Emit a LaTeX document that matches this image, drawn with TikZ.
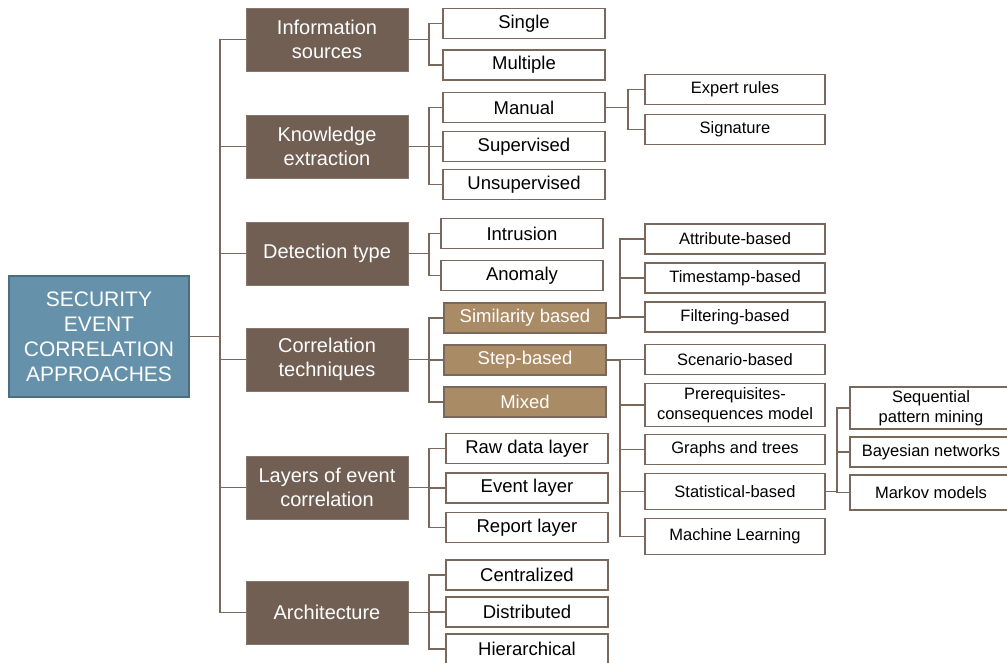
\documentclass[tikz,border=0pt]{standalone}
\usepackage{xcolor}
\usepackage{fontspec}
\setmainfont{Liberation Sans}
\usepackage{tikz}
\usetikzlibrary{positioning}
\definecolor{rootblue}{HTML}{6592AA}
\definecolor{rootedge}{HTML}{4B6E82}
\definecolor{catbrown}{HTML}{715F54}
\definecolor{tanfill}{HTML}{A98B65}
\definecolor{linkbrown}{HTML}{7A685D}
\newcommand{\sz}[2]{\fontsize{#1}{#2}\selectfont}

\begin{document}
\begin{tikzpicture}[
    x=1pt, y=-1pt,
    root/.style={draw=rootedge, line width=1.5pt, fill=rootblue, text=white, align=center, minimum width=180pt, minimum height=121pt, inner sep=0pt, outer sep=0pt, font=\sz{21}{25}},
    cat/.style={draw=catbrown!85!white, fill=catbrown, text=white, align=center, minimum width=162pt, minimum height=63pt, inner sep=0pt, outer sep=0pt, font=\sz{20}{24.5}},
    leaf/.style={draw=linkbrown, line width=1.5pt, fill=white, align=center, minimum width=162pt, minimum height=30pt, inner sep=0pt, outer sep=0pt, font=\sz{18.5}{22}},
    tech/.style={leaf, fill=tanfill, text=white},
    sub/.style={leaf, minimum width=180pt, font=\sz{16.5}{20}},
    link/.style={draw=linkbrown, line width=1.6pt}
]
\useasboundingbox (0,0) rectangle (1007,662);

\node[root] (root) at (99,336.5) {SECURITY\\EVENT\\CORRELATION\\APPROACHES};

% first level
\node[cat] (info) at (327,39.5) {Information\\sources};
\node[cat] (know) at (327,146.5) {Knowledge\\extraction};
\node[cat] (detect) at (327,253.5) {Detection type};
\node[cat] (corr) at (327,359.5) {Correlation\\techniques};
\node[cat] (layers) at (327,487.5) {Layers of event\\correlation};
\node[cat] (arch) at (327,612.5) {Architecture};

% second level
\node[leaf] (single) at (524,23.5) {Single};
\node[leaf, below=11.5pt of single] (multiple) {Multiple};
\node[leaf] (manual) at (524,107.5) {Manual};
\node[leaf, below=9pt of manual] (superv) {Supervised};
\node[leaf, below=8pt of superv] (unsuperv) {Unsupervised};
\node[leaf] (intrusion) at (522,233.5) {Intrusion};
\node[leaf, below=12pt of intrusion] (anomaly) {Anomaly};
\node[tech] (simil) at (525,318) {Similarity based};
\node[tech, below=12pt of simil] (stepb) {Step-based};
\node[tech, below=12pt of stepb] (mixed) {Mixed};
\node[leaf] (raw) at (527,448.5) {Raw data layer};
\node[leaf, below=9.5pt of raw] (event) {Event layer};
\node[leaf, below=9.5pt of event] (report) {Report layer};
\node[leaf] (central) at (527,575) {Centralized};
\node[leaf, below=7pt of central] (distrib) {Distributed};
\node[leaf, below=7pt of distrib] (hier) {Hierarchical};

% third level
\node[sub] (expert) at (735,89.5) {Expert rules};
\node[sub, below=10pt of expert] (signature) {Signature};
\node[sub] (attrib) at (735,239) {Attribute-based};
\node[sub, below=9pt of attrib] (timest) {Timestamp-based};
\node[sub, below=9pt of timest] (filter) {Filtering-based};
\node[sub] (scenario) at (735,359.5) {Scenario-based};
\node[sub, below=9pt of scenario, minimum height=43pt] (prereq) {Prerequisites-\\consequences model};
\node[sub, below=8pt of prereq] (graphs) {Graphs and trees};
\node[sub, below=9pt of graphs, minimum height=36pt] (stats) {Statistical-based};
\node[sub, below=9pt of stats, minimum height=36pt] (mlearn) {Machine Learning};

% fourth level
\node[sub, minimum width=162pt, minimum height=42pt] (seqpat) at (931,408) {Sequential\\pattern mining};
\node[sub, minimum width=162pt, below=8pt of seqpat] (bayes) {Bayesian networks};
\node[sub, minimum width=162pt, minimum height=35pt, below=8pt of bayes] (markov) {Markov models};

% connectors
\foreach \c in {info,know,detect,corr,layers,arch}
    \draw[link] (root.east) -- ++(31,0) |- (\c.west);
\foreach \p/\c in {info/single, info/multiple, know/manual, know/superv, know/unsuperv,
    detect/intrusion, detect/anomaly, corr/simil, corr/stepb, corr/mixed,
    layers/raw, layers/event, layers/report, arch/central, arch/distrib, arch/hier}
    \draw[link] (\p.east) -- ++(21,0) |- (\c.west);
\foreach \c in {expert,signature}
    \draw[link] (manual.east) -- ++(23,0) |- (\c.west);
\foreach \c in {attrib,timest,filter}
    \draw[link] (simil.east) -- ++(14,0) |- (\c.west);
\foreach \c in {scenario,prereq,graphs,stats,mlearn}
    \draw[link] (stepb.east) -- ++(14,0) |- (\c.west);
\foreach \c in {seqpat,bayes,markov}
    \draw[link] (stats.east) -- ++(12,0) |- (\c.west);
\end{tikzpicture}
\end{document}
